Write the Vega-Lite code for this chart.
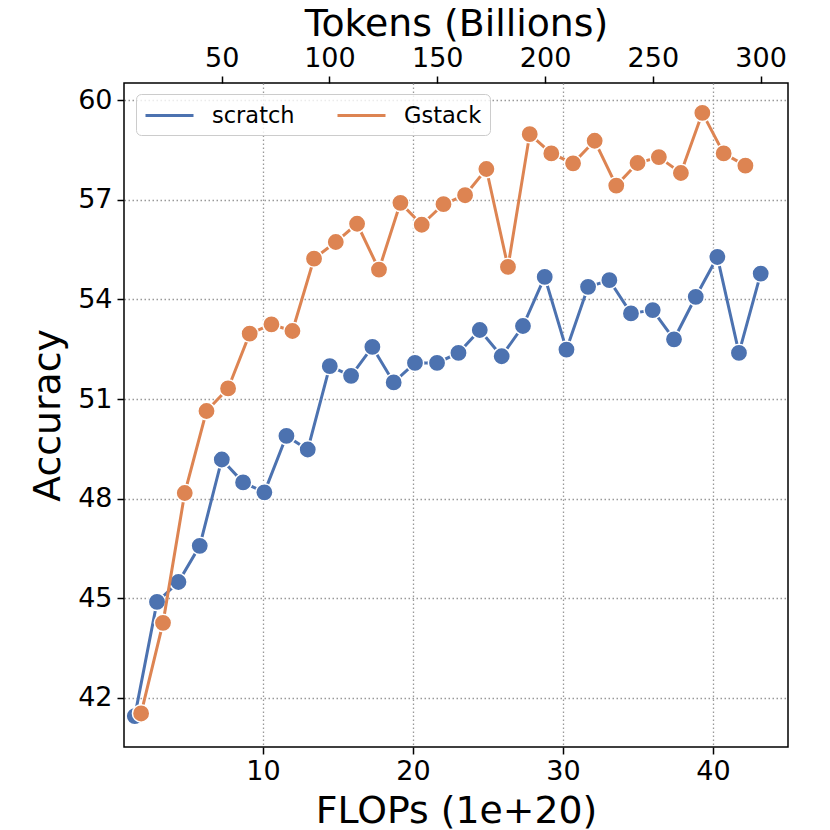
{
  "$schema": "https://vega.github.io/schema/vega-lite/v6.json",
  "autosize": "none",
  "width": 664,
  "height": 664,
  "padding": {"left": 124, "top": 83, "right": 42, "bottom": 83},
  "background": "white",
  "config": {
    "font": "DejaVu Sans",
    "view": {"stroke": "black", "strokeWidth": 1.5},
    "axis": {
      "labelFont": "DejaVu Sans",
      "titleFont": "DejaVu Sans",
      "labelFontSize": 27,
      "titleFontSize": 37.8,
      "titleFontWeight": "normal",
      "labelColor": "black",
      "titleColor": "black",
      "tickColor": "black",
      "tickWidth": 1.5,
      "tickSize": 7,
      "domain": false,
      "gridColor": "#999999",
      "gridDash": [1.5, 2.5],
      "gridWidth": 1.3,
      "gridOpacity": 1
    },
    "legend": {
      "orient": "none",
      "legendX": 12,
      "legendY": 11,
      "direction": "horizontal",
      "columns": 2,
      "symbolType": "M-2,0H2",
      "symbolSize": 576,
      "symbolOffset": 12,
      "symbolStrokeWidth": 3,
      "labelFont": "DejaVu Sans",
      "labelFontSize": 22.5,
      "labelColor": "black",
      "labelOffset": 29,
      "columnPadding": 36,
      "padding": 8,
      "fillColor": "rgba(255,255,255,0.8)",
      "strokeColor": "#cccccc",
      "cornerRadius": 5
    }
  },
  "data": {
    "values": [
      {"series": "scratch", "flops": 1.45, "tokens": 10, "accuracy": 41.45},
      {"series": "scratch", "flops": 2.93, "tokens": 20, "accuracy": 44.89},
      {"series": "scratch", "flops": 4.36, "tokens": 30, "accuracy": 45.49},
      {"series": "scratch", "flops": 5.78, "tokens": 40, "accuracy": 46.58},
      {"series": "scratch", "flops": 7.25, "tokens": 50, "accuracy": 49.18},
      {"series": "scratch", "flops": 8.67, "tokens": 60, "accuracy": 48.49},
      {"series": "scratch", "flops": 10.09, "tokens": 70, "accuracy": 48.19},
      {"series": "scratch", "flops": 11.56, "tokens": 80, "accuracy": 49.89},
      {"series": "scratch", "flops": 12.98, "tokens": 90, "accuracy": 49.48},
      {"series": "scratch", "flops": 14.45, "tokens": 100, "accuracy": 51.99},
      {"series": "scratch", "flops": 15.87, "tokens": 110, "accuracy": 51.7},
      {"series": "scratch", "flops": 17.29, "tokens": 120, "accuracy": 52.57},
      {"series": "scratch", "flops": 18.71, "tokens": 130, "accuracy": 51.5},
      {"series": "scratch", "flops": 20.13, "tokens": 140, "accuracy": 52.09},
      {"series": "scratch", "flops": 21.6, "tokens": 150, "accuracy": 52.09},
      {"series": "scratch", "flops": 23.03, "tokens": 160, "accuracy": 52.39},
      {"series": "scratch", "flops": 24.45, "tokens": 170, "accuracy": 53.08},
      {"series": "scratch", "flops": 25.91, "tokens": 180, "accuracy": 52.29},
      {"series": "scratch", "flops": 27.33, "tokens": 190, "accuracy": 53.2},
      {"series": "scratch", "flops": 28.78, "tokens": 200, "accuracy": 54.68},
      {"series": "scratch", "flops": 30.23, "tokens": 210, "accuracy": 52.49},
      {"series": "scratch", "flops": 31.67, "tokens": 220, "accuracy": 54.38},
      {"series": "scratch", "flops": 33.09, "tokens": 230, "accuracy": 54.58},
      {"series": "scratch", "flops": 34.53, "tokens": 240, "accuracy": 53.58},
      {"series": "scratch", "flops": 35.98, "tokens": 250, "accuracy": 53.68},
      {"series": "scratch", "flops": 37.4, "tokens": 260, "accuracy": 52.8},
      {"series": "scratch", "flops": 38.85, "tokens": 270, "accuracy": 54.08},
      {"series": "scratch", "flops": 40.29, "tokens": 280, "accuracy": 55.28},
      {"series": "scratch", "flops": 41.73, "tokens": 290, "accuracy": 52.39},
      {"series": "scratch", "flops": 43.18, "tokens": 300, "accuracy": 54.78},
      {"series": "Gstack", "flops": 1.87, "tokens": 10, "accuracy": 41.53},
      {"series": "Gstack", "flops": 3.33, "tokens": 20, "accuracy": 44.26},
      {"series": "Gstack", "flops": 4.78, "tokens": 30, "accuracy": 48.17},
      {"series": "Gstack", "flops": 6.23, "tokens": 40, "accuracy": 50.64},
      {"series": "Gstack", "flops": 7.67, "tokens": 50, "accuracy": 51.32},
      {"series": "Gstack", "flops": 9.11, "tokens": 60, "accuracy": 52.97},
      {"series": "Gstack", "flops": 10.56, "tokens": 70, "accuracy": 53.25},
      {"series": "Gstack", "flops": 11.96, "tokens": 80, "accuracy": 53.05},
      {"series": "Gstack", "flops": 13.4, "tokens": 90, "accuracy": 55.23},
      {"series": "Gstack", "flops": 14.85, "tokens": 100, "accuracy": 55.73},
      {"series": "Gstack", "flops": 16.27, "tokens": 110, "accuracy": 56.28},
      {"series": "Gstack", "flops": 17.73, "tokens": 120, "accuracy": 54.9},
      {"series": "Gstack", "flops": 19.16, "tokens": 130, "accuracy": 56.91},
      {"series": "Gstack", "flops": 20.58, "tokens": 140, "accuracy": 56.25},
      {"series": "Gstack", "flops": 22.03, "tokens": 150, "accuracy": 56.87},
      {"series": "Gstack", "flops": 23.47, "tokens": 160, "accuracy": 57.14},
      {"series": "Gstack", "flops": 24.89, "tokens": 170, "accuracy": 57.93},
      {"series": "Gstack", "flops": 26.33, "tokens": 180, "accuracy": 54.98},
      {"series": "Gstack", "flops": 27.78, "tokens": 190, "accuracy": 58.98},
      {"series": "Gstack", "flops": 29.22, "tokens": 200, "accuracy": 58.4},
      {"series": "Gstack", "flops": 30.67, "tokens": 210, "accuracy": 58.1},
      {"series": "Gstack", "flops": 32.11, "tokens": 220, "accuracy": 58.78},
      {"series": "Gstack", "flops": 33.55, "tokens": 230, "accuracy": 57.43},
      {"series": "Gstack", "flops": 34.97, "tokens": 240, "accuracy": 58.11},
      {"series": "Gstack", "flops": 36.39, "tokens": 250, "accuracy": 58.29},
      {"series": "Gstack", "flops": 37.86, "tokens": 260, "accuracy": 57.81},
      {"series": "Gstack", "flops": 39.29, "tokens": 270, "accuracy": 59.62},
      {"series": "Gstack", "flops": 40.71, "tokens": 280, "accuracy": 58.4},
      {"series": "Gstack", "flops": 42.16, "tokens": 290, "accuracy": 58.03}
    ]
  },
  "resolve": {"scale": {"x": "independent"}, "axis": {"x": "independent"}},
  "layer": [
    {
      "encoding": {
        "x": {
          "field": "flops",
          "type": "quantitative",
          "scale": {"domain": [0.73, 45.0], "nice": false, "zero": false},
          "axis": {
            "orient": "bottom",
            "values": [10, 20, 30, 40],
            "title": "FLOPs (1e+20)",
            "labelPadding": 4,
            "titlePadding": 8
          }
        },
        "y": {
          "field": "accuracy",
          "type": "quantitative",
          "scale": {"domain": [40.52, 60.52], "nice": false, "zero": false},
          "axis": {
            "values": [42, 45, 48, 51, 54, 57, 60],
            "title": "Accuracy",
            "labelPadding": 5,
            "titlePadding": 10
          }
        },
        "color": {
          "field": "series",
          "type": "nominal",
          "scale": {"domain": ["scratch", "Gstack"], "range": ["#4C72B0", "#DD8452"]},
          "legend": {"title": null}
        },
        "order": {"field": "flops", "type": "quantitative"}
      },
      "layer": [
        {
          "transform": [{"filter": "datum.series === 'scratch'"}],
          "mark": {"type": "line", "strokeWidth": 3}
        },
        {
          "transform": [{"filter": "datum.series === 'scratch'"}],
          "mark": {"type": "point", "filled": true, "size": 300, "opacity": 1, "stroke": "white", "strokeWidth": 1.5}
        },
        {
          "transform": [{"filter": "datum.series === 'Gstack'"}],
          "mark": {"type": "line", "strokeWidth": 3}
        },
        {
          "transform": [{"filter": "datum.series === 'Gstack'"}],
          "mark": {"type": "point", "filled": true, "size": 300, "opacity": 1, "stroke": "white", "strokeWidth": 1.5}
        }
      ]
    },
    {
      "transform": [{"filter": "datum.series === 'scratch'"}],
      "mark": {"type": "point", "opacity": 0},
      "encoding": {
        "x": {
          "field": "tokens",
          "type": "quantitative",
          "scale": {"domain": [4.7, 312.7], "nice": false, "zero": false},
          "axis": {
            "orient": "top",
            "values": [50, 100, 150, 200, 250, 300],
            "grid": false,
            "title": "Tokens (Billions)",
            "labelPadding": 4,
            "titlePadding": 1
          }
        },
        "y": {"field": "accuracy", "type": "quantitative"}
      }
    }
  ]
}
